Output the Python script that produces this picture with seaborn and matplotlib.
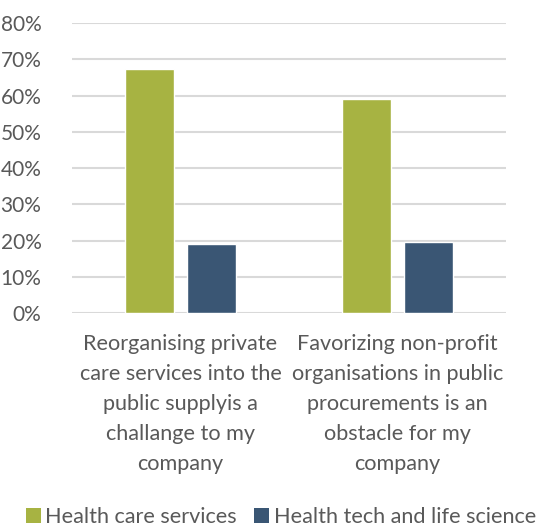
import matplotlib
matplotlib.use("Agg")
import matplotlib.pyplot as plt
import seaborn as sns
import pandas as pd
from matplotlib.ticker import PercentFormatter
from matplotlib.patches import Patch

categories = [
    "Reorganising private\ncare services into the\npublic supplyis a\nchallange to my\ncompany",
    "Favorizing non-profit\norganisations in public\nprocurements is an\nobstacle for my\ncompany",
]
series = ["Health care services", "Health tech and life science"]
health_care = [0.673, 0.589]
health_tech = [0.191, 0.197]
yticks = [0, 0.1, 0.2, 0.3, 0.4, 0.5, 0.6, 0.7, 0.8]
colors = ["#A7B342", "#3A5674"]

df = pd.DataFrame({
    "category": categories * 2,
    "series": [series[0]] * 2 + [series[1]] * 2,
    "value": health_care + health_tech,
})

sns.set_style("white")
plt.rcParams["font.family"] = ["Lato", "DejaVu Sans"]
text_color = "#595959"

fig = plt.figure(figsize=(5.38, 5.29), dpi=100)
ax = fig.add_axes([0.1338, 0.4083, 0.8067, 0.5482])
sns.barplot(data=df, x="category", y="value", hue="series", palette=colors,
            width=0.571, gap=0.21, ax=ax, legend=False, saturation=1)
ax.set_ylim(0, 0.8)
ax.set_xlim(-0.5, 1.5)
ax.set_yticks(yticks)
ax.yaxis.set_major_formatter(PercentFormatter(1.0, decimals=0))
ax.grid(axis="y", color="#D9D9D9", linewidth=1.5)
ax.set_axisbelow(True)
for s in ax.spines.values():
    s.set_visible(False)
ax.set_xlabel("")
ax.set_ylabel("")
ax.tick_params(axis="y", length=0, pad=22, labelsize=15, labelcolor=text_color)
ax.tick_params(axis="x", length=0, pad=15, labelsize=15.6, labelcolor=text_color)
for lbl in ax.get_xticklabels():
    lbl.set_linespacing(1.62)
    lbl.set_horizontalalignment("center")
    lbl.set_multialignment("center")

handles = [Patch(facecolor=c, edgecolor="none") for c in colors]
fig.legend(handles, series, loc="center", bbox_to_anchor=(0.522, 0.022), ncol=2,
           frameon=False, fontsize=15.6, labelcolor=text_color, handlelength=0.7,
           handleheight=0.7, handletextpad=0.2, columnspacing=0.8,
           borderpad=0, borderaxespad=0)

fig.savefig("out.png", dpi=100)
